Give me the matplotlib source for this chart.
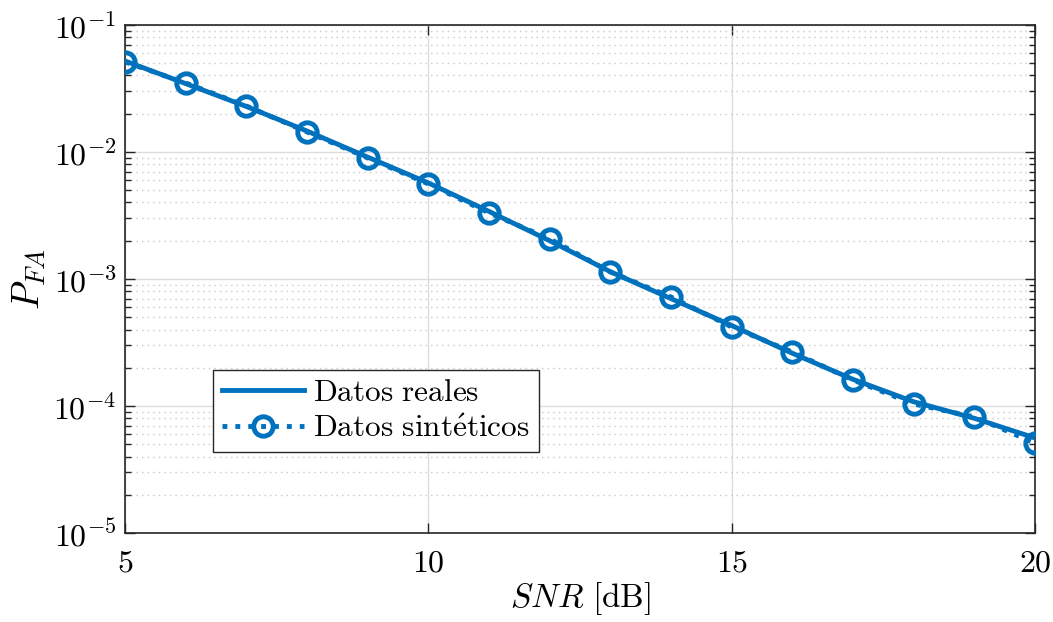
import matplotlib
matplotlib.use("Agg")
import matplotlib.pyplot as plt
from matplotlib.ticker import LogLocator, NullFormatter
import numpy as np

plt.rcParams['font.family'] = 'serif'
plt.rcParams['font.serif'] = ['cmr10', 'DejaVu Serif']
plt.rcParams['mathtext.fontset'] = 'cm'
plt.rcParams['axes.formatter.use_mathtext'] = True
plt.rcParams['axes.unicode_minus'] = False

snr_db = [5, 6, 7, 8, 9, 10, 11, 12, 13, 14, 15, 16, 17, 18, 19, 20]
pfa_real = [0.052, 0.0345, 0.0228, 0.0146, 0.0091, 0.0057, 0.0034, 0.0020,
            0.00114, 0.00070, 0.00043, 0.00026, 0.000162, 0.000108, 8.0e-5, 5.6e-5]
pfa_synth = [0.0511, 0.0349, 0.0230, 0.01436, 0.00897, 0.0056, 0.00331, 0.00207,
             0.001135, 0.000721, 0.000419, 0.000266, 0.00016, 0.0001037, 8.2e-5, 5.1e-5]
x_ticks = [5, 10, 15, 20]

blue = '#0072BD'

fig = plt.figure(figsize=(10.53, 6.22), dpi=100)
ax = fig.add_axes([0.1187, 0.143, 0.8643, 0.817])

ax.plot(snr_db, pfa_real, '-', color=blue, lw=3.5, label=r'$\mathrm{Datos\ reales}$', zorder=3)
ax.plot(snr_db, pfa_synth, ':', color=blue, lw=3.5, marker='o', markersize=14,
        markerfacecolor='none', markeredgewidth=3.5, markeredgecolor=blue,
        label=r'$\mathrm{Datos\ sint\acute{e}ticos}$', zorder=4)

ax.set_yscale('log')
ax.set_xlim(5, 20)
ax.set_ylim(1e-5, 1e-1)
ax.set_xticks(x_ticks)
ax.set_xticklabels([r'$%d$' % v for v in x_ticks])
ax.yaxis.set_major_locator(LogLocator(base=10, numticks=10))
ax.yaxis.set_minor_locator(LogLocator(base=10, subs=np.arange(2, 10), numticks=20))
ax.yaxis.set_minor_formatter(NullFormatter())

ax.grid(True, which='major', color='#dcdcdc', lw=1.0, ls='-', zorder=0)
ax.grid(True, which='minor', axis='y', color='#c8c8c8', lw=1.0, ls=(0, (1, 3)), zorder=0)
ax.set_axisbelow(True)

ax.tick_params(which='both', direction='in', top=True, right=True, labelsize=23, color='#262626')
ax.tick_params(which='major', length=7, width=1)
ax.tick_params(which='minor', length=4, width=1)
ax.tick_params(axis='x', pad=12)
ax.tick_params(axis='y', pad=6)
for s in ax.spines.values():
    s.set_color('#262626')
    s.set_linewidth(1.2)

ax.set_xlabel(r'$SNR\ \mathrm{[dB]}$', fontsize=24, labelpad=2)
ax.set_ylabel(r'$P_{FA}$', fontsize=27, labelpad=4)

leg = ax.legend(loc='lower left', bbox_to_anchor=(0.0967, 0.159), borderaxespad=0,
                fancybox=False, edgecolor='#262626', fontsize=22.5, handlelength=2.6,
                framealpha=1, borderpad=0.3, labelspacing=0.25, handletextpad=0.3)
leg.get_frame().set_linewidth(1.0)

fig.savefig('out.png', dpi=100)
